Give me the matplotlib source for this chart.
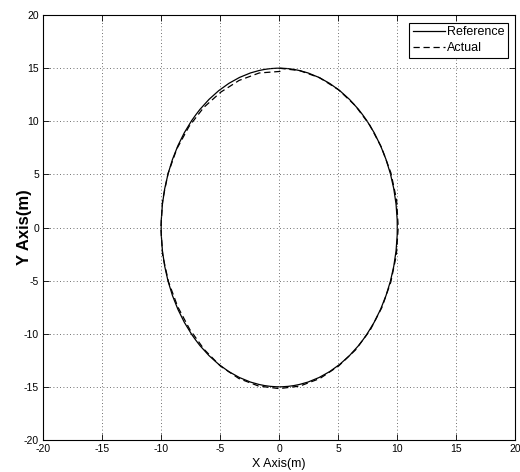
import matplotlib
matplotlib.use("Agg")
import matplotlib.pyplot as plt
from matplotlib.patches import Ellipse
from matplotlib.lines import Line2D
from matplotlib.ticker import FuncFormatter

plt.rcParams['font.family'] = ['Liberation Sans Narrow', 'Liberation Sans', 'DejaVu Sans']

# Trayectoria de referencia: elipse centrada
ref_centro = (0.0, 0.0)
ref_ancho = 20.0   # eje x completo
ref_alto = 30.0    # eje y completo

real_x = [0.1, -1.7, -3.4, -4.95, -6.4, -7.65, -8.68, -9.42, -9.88, -10.03,
          -9.88, -9.38, -8.6, -7.58, -6.36, -4.98, -3.42, -1.75, 0.0,
          1.75, 3.44, 5.02, 6.46, 7.7, 8.7, 9.45, 9.92, 10.08,
          9.94, 9.46, 8.68, 7.67, 6.43, 5.0, 3.42, 1.74, 0.0]
real_y = [14.7, 14.55, 13.85, 12.75, 11.3, 9.5, 7.4, 5.08, 2.58, -0.02,
          -2.6, -5.12, -7.46, -9.6, -11.48, -13.05, -14.22, -14.93, -15.17,
          -14.93, -14.22, -13.05, -11.53, -9.67, -7.52, -5.14, -2.6, 0.02,
          2.61, 5.14, 7.5, 9.64, 11.49, 12.99, 14.1, 14.77, 15.0]

ticks = [-20, -15, -10, -5, 0, 5, 10, 15, 20]

fig = plt.figure(figsize=(5.2, 4.72), dpi=100)
ax = fig.add_axes([0.083, 0.068, 0.908, 0.900])

ax.add_patch(Ellipse(ref_centro, ref_ancho, ref_alto, fill=False,
                     edgecolor='black', linewidth=0.9))
ax.plot(real_x, real_y, color='black', linewidth=0.9, dashes=(5, 3))

ax.set_xlim(-20, 20)
ax.set_ylim(-20, 20)
ax.set_xticks(ticks)
ax.set_yticks(ticks)
fmt = FuncFormatter(lambda v, p: f"{v:g}".replace('\u2212', '-'))
ax.xaxis.set_major_formatter(fmt)
ax.yaxis.set_major_formatter(fmt)
ax.tick_params(direction='in', top=True, right=True, length=4, width=0.6,
               labelsize=7.5, pad=3)
ax.grid(True, color='0.25', linestyle=(0, (1, 3)), linewidth=0.6)
for s in ax.spines.values():
    s.set_linewidth(0.8)

ax.set_xlabel("X Axis(m)", fontsize=9, labelpad=3)
ax.set_ylabel("Y Axis(m)", fontsize=12, fontweight='bold')
ax.yaxis.set_label_coords(-0.024, 0.5)

handles = [Line2D([], [], color='black', linewidth=0.9),
           Line2D([], [], color='black', linewidth=0.9, dashes=(5, 3))]
leg = ax.legend(handles, ['Reference', 'Actual'], loc='upper right',
                fontsize=9, handlelength=2.6, handletextpad=0.1,
                borderpad=0.3, labelspacing=0.3, fancybox=False,
                framealpha=1, borderaxespad=0.6)
leg.get_frame().set_edgecolor('black')
leg.get_frame().set_linewidth(0.8)

fig.savefig('out.png', dpi=100)
